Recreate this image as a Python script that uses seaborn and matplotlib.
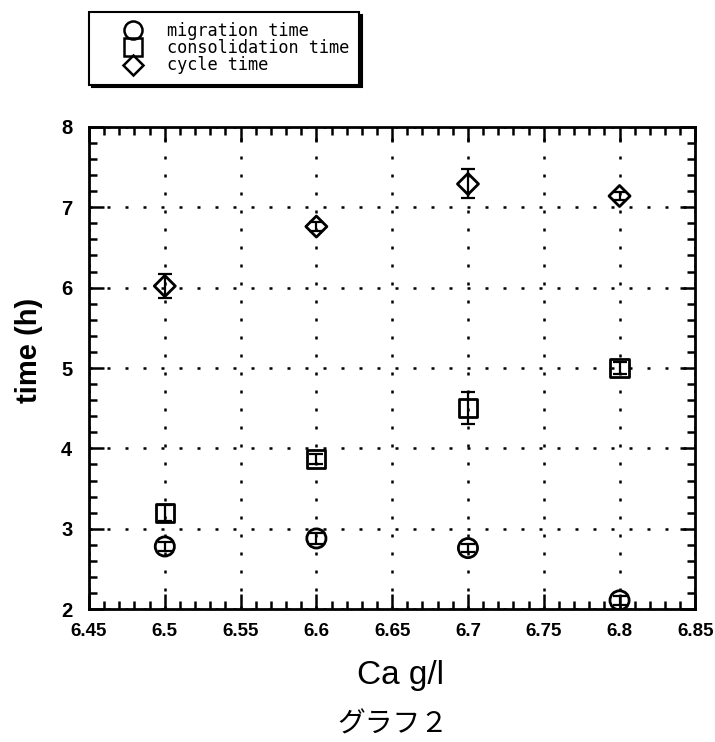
import numpy as np
import pandas as pd
import matplotlib
matplotlib.use("Agg")
import matplotlib.pyplot as plt
from matplotlib.lines import Line2D
from matplotlib.ticker import MultipleLocator
import seaborn as sns

ca = [6.5, 6.6, 6.7, 6.8]
migration = [2.78, 2.88, 2.76, 2.11]
migration_err = [0.06, 0.07, 0.05, 0.06]
consolidation = [3.2, 3.87, 4.5, 5.0]
consolidation_err = [0.1, 0.06, 0.2, 0.08]
cycle = [6.02, 6.76, 7.29, 7.14]
cycle_err = [0.15, 0.06, 0.18, 0.05]
labels = ["migration time", "consolidation time", "cycle time"]
xticks = [6.45, 6.5, 6.55, 6.6, 6.65, 6.7, 6.75, 6.8, 6.85]
xticklabels = ["6.45", "6.5", "6.55", "6.6", "6.65", "6.7", "6.75", "6.8", "6.85"]

sns.set_style("ticks")
plt.rcParams['font.family'] = ['Liberation Sans', 'DejaVu Sans']
plt.rcParams.update({"text.color": "black", "axes.labelcolor": "black",
                     "xtick.color": "black", "ytick.color": "black"})

fig = plt.figure(figsize=(7.15, 7.42), dpi=100)
ax = fig.add_axes([0.1245, 0.179, 0.848, 0.65])

series = [(migration, migration_err, "o", 190),
          (consolidation, consolidation_err, "s", 170),
          (cycle, cycle_err, "D", 115)]

for (vals, errs, mk, size), lab in zip(series, labels):
    df = pd.DataFrame({"ca": ca, "time": vals})
    ax.errorbar(ca, vals, yerr=errs, fmt="none", ecolor="black",
                elinewidth=1.6, capsize=5, capthick=1.6, zorder=3)
    sns.scatterplot(data=df, x="ca", y="time", marker=mk, s=size,
                    facecolors="none", edgecolors="black", linewidth=2,
                    ax=ax, legend=False, zorder=4)

ax.set_xlim(6.45, 6.85)
ax.set_ylim(2, 8)
ax.set_xticks(xticks)
ax.set_xticklabels(xticklabels)
ax.xaxis.set_minor_locator(MultipleLocator(0.01))
ax.yaxis.set_major_locator(MultipleLocator(1))
ax.yaxis.set_minor_locator(MultipleLocator(0.2))
ax.tick_params(which="both", direction="in", top=True, right=True,
               width=1.8, color="black", labelcolor="black")
ax.tick_params(which="major", length=11)
ax.tick_params(which="minor", length=6)
ax.tick_params(axis="x", which="major", pad=10, labelsize=13.5)
ax.tick_params(axis="y", which="major", pad=12, labelsize=14.5)
for lab in ax.get_xticklabels() + ax.get_yticklabels():
    lab.set_fontweight("bold")
for sp in ax.spines.values():
    sp.set_linewidth(2)
    sp.set_color("black")

ax.grid(True, which="major", color="black", linestyle=(0, (1.2, 6)), linewidth=1.8)

ax.set_xlabel("Ca g/l", fontsize=24, color="black")
ax.xaxis.set_label_coords(0.513, -0.105)
ax.set_ylabel("time (h)", fontsize=21, fontweight="bold", color="black")
ax.yaxis.set_label_coords(-0.076, 0.537)

fig.text(0.55, 0.023, "グラフ２", fontsize=20, ha="center", va="center", color="black",
         family=["Noto Sans CJK JP", "DejaVu Sans"])

handles = [Line2D([], [], linestyle="none", marker=m, markersize=ms,
                  markerfacecolor="none", markeredgecolor="black", markeredgewidth=1.8)
           for m, ms in [("o", 13), ("s", 12.5), ("D", 10)]]
leg = fig.legend(handles, labels, loc="upper left", bbox_to_anchor=(89 / 715, 1 - 12 / 742),
                 frameon=True, fancybox=False, shadow={"color": "black", "alpha": 1},
                 edgecolor="black", handlelength=4.0, handletextpad=0.0,
                 labelspacing=-0.05, borderpad=0.6, borderaxespad=0,
                 prop={"family": "DejaVu Sans Mono", "size": 12.2})
leg.get_frame().set_linewidth(1.5)
for t in leg.get_texts():
    t.set_color("black")

fig.savefig("out.png", dpi=100)
